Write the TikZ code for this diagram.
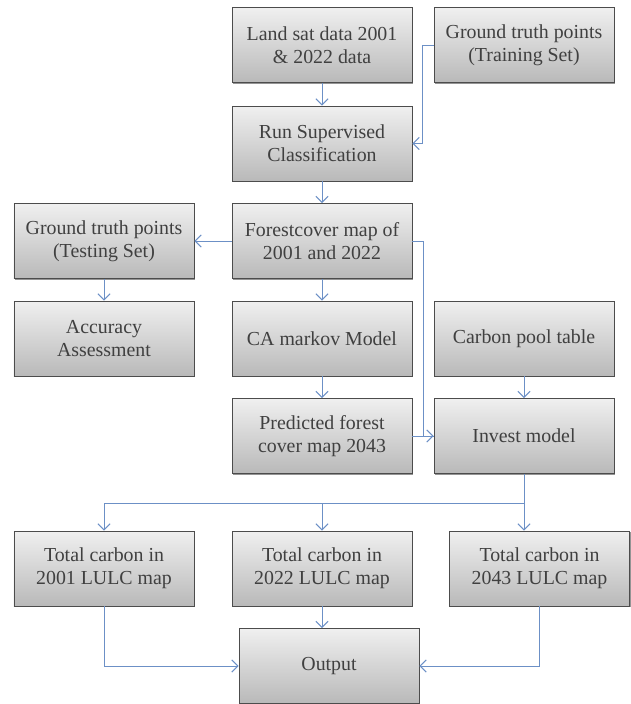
\documentclass[tikz,border=0pt]{standalone}
\usepackage{fontspec}
\setmainfont{Liberation Serif}
\usepackage{tikz}
\usetikzlibrary{arrows.meta,shadows}

\definecolor{flowblue}{RGB}{108,144,198}

\begin{document}
\begin{tikzpicture}[
    box/.style={draw=black!70, line width=0.5pt, top color=gray!12, bottom color=gray!55,
        drop shadow={shadow xshift=0.7pt, shadow yshift=-0.7pt, fill=black!60, opacity=0.7},
        minimum width=3.6cm, minimum height=1.5cm, align=center, text=black!75,
        font=\fontsize{11.3}{13}\selectfont, inner sep=2pt},
    flow/.style={draw=flowblue, line width=0.55pt, -{Straight Barb[length=3.5pt,width=7pt]}},
    line/.style={draw=flowblue, line width=0.55pt}
]
    % Fix page size
    \useasboundingbox (0, 0) rectangle (12.62, -14.08);

    % Top rows
    \node[box] (land) at (6.44, -0.90) {Land sat data 2001\\\& 2022 data};
    \node[box] (train) at (10.48, -0.90) {Ground truth points\\(Training Set)};
    \node[box] (run) at (6.44, -2.87) {Run Supervised\\Classification};
    \node[box] (forest) at (6.44, -4.82) {Forestcover map of\\2001 and 2022};
    \node[box] (test) at (2.08, -4.82) {Ground truth points\\(Testing Set)};

    % Middle rows
    \node[box] (acc) at (2.08, -6.77) {Accuracy\\Assessment};
    \node[box] (ca) at (6.44, -6.77) {CA markov Model};
    \node[box] (pool) at (10.48, -6.77) {Carbon pool table};
    \node[box] (pred) at (6.44, -8.72) {Predicted forest\\cover map 2043};
    \node[box] (invest) at (10.48, -8.72) {Invest model};

    % Bottom rows
    \node[box] (tot1) at (2.08, -11.37) {Total carbon in\\2001 LULC map};
    \node[box] (tot2) at (6.44, -11.37) {Total carbon in\\2022 LULC map};
    \node[box] (tot3) at (10.79, -11.37) {Total carbon in\\2043 LULC map};
    \node[box] (out) at (6.58, -13.32) {Output};

    % Arrows
    \draw[flow] (land) -- (run);
    \draw[flow] (train.west) -- ++(-0.22, 0) |- (run.east);
    \draw[flow] (run) -- (forest);
    \draw[flow] (forest) -- (test);
    \draw[flow] (test) -- (acc);
    \draw[flow] (forest) -- (ca);
    \draw[flow] (ca) -- (pred);
    \draw[flow] (forest.east) -- ++(0.22, 0) |- (invest.west);
    \draw[line] (pred) -- (invest);
    \draw[flow] (pool) -- (invest);

    % Split from invest model
    \coordinate (bus) at (10.48, -10.06);
    \draw[flow] (invest.south) -- (invest.south |- tot3.north);
    \draw[flow] (bus) -| (tot1.north);
    \draw[flow] (bus -| tot2.north) -- (tot2.north);

    % Into output
    \draw[flow] (tot1.south) |- (out.west);
    \draw[flow] (tot2.south) -- (tot2.south |- out.north);
    \draw[flow] (tot3.south) |- (out.east);

\end{tikzpicture}
\end{document}
